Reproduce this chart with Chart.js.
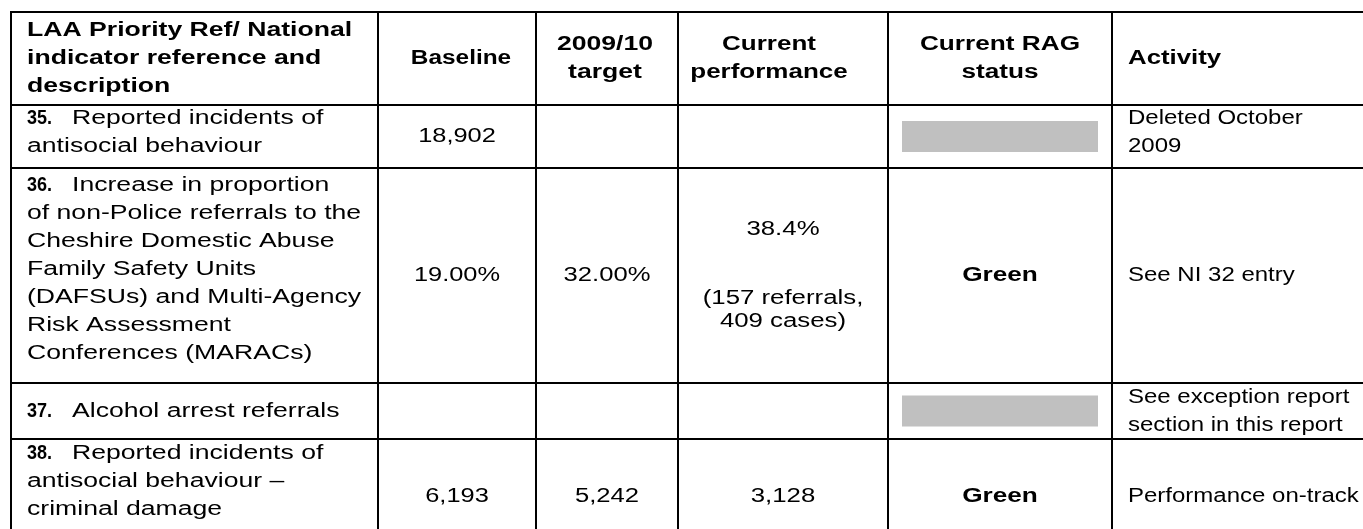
<!DOCTYPE html>
<html>
<head>
  <meta charset="UTF-8">
  <title>LAA Priority / National Indicators</title>
  <script src="https://cdn.jsdelivr.net/npm/chart.js@4.4.0/dist/chart.umd.min.js"></script>
  <style>
    body { margin: 0; padding: 0; background-color: #fff; }
    .wrap { position: relative; width: 1363px; height: 529px; }
  </style>
</head>
<body>
  <div class="wrap"><canvas id="tableChart"></canvas></div>

  <script>
    // table content
    const headers = [
      ["LAA Priority Ref/ National", "indicator reference and", "description"],
      ["Baseline"],
      ["2009/10", "target"],
      ["Current", "performance"],
      ["Current RAG", "status"],
      ["Activity"]
    ];
    const refNumbers = ["35.", "36.", "37.", "38."];
    const descriptions = [
      ["Reported incidents of", "antisocial behaviour"],
      ["Increase in proportion", "of non-Police referrals to the", "Cheshire Domestic Abuse",
       "Family Safety Units", "(DAFSUs) and Multi-Agency", "Risk Assessment", "Conferences (MARACs)"],
      ["Alcohol arrest referrals"],
      ["Reported incidents of", "antisocial behaviour \u2013", "criminal damage"]
    ];
    const baselineValues = ["18,902", "19.00%", "", "6,193"];
    const targetValues = ["", "32.00%", "", "5,242"];
    const performanceValues = [
      [""],
      ["38.4%", "", "", "(157 referrals,", "409 cases)"],
      [""],
      ["3,128"]
    ];
    const ragStatus = [null, "Green", null, "Green"];   // null = not rated (grey)
    const activities = [
      ["Deleted October", "2009"],
      ["See NI 32 entry"],
      ["See exception report", "section in this report"],
      ["Performance on-track"]
    ];

    // layout (in scale units, which map 1:1 onto the canvas)
    const colEdges = [11, 378, 536, 678, 888, 1112, 1420];
    const rowEdges = [12, 105, 168, 383, 439, 553];
    const pad = 16;
    const lineH = 28;
    const perfLineH = 23;
    const firstLineOffset = [13, 17, null, 14];      // description column, null = centred
    const activityOffset = [13, null, null, null];
    const headerNudge = [0, 4, -2, -14, 0, 0];
    const bodyStretch = [1.33, 1.27, 1.28, 1.29, 1.31, 1.2];
    const headStretch = [1.33, 1.22, 1.33, 1.3, 1.31, 1.29];
    const refStretch = 0.9, refGap = 45;
    const FONT = "'Liberation Sans', Arial, sans-serif";

    function txt(ctx, s, px, py, align, bold, sx) {
      if (!s) return;
      ctx.save();
      ctx.translate(px, py);
      ctx.scale(sx, 1);
      ctx.font = (bold ? "bold " : "") + "20px " + FONT;
      ctx.textAlign = align;
      ctx.textBaseline = "middle";
      ctx.fillStyle = "#000";
      ctx.fillText(s, 0, 0);
      ctx.restore();
    }

    const tablePlugin = {
      id: 'tableDraw',
      afterDraw(chart) {
        const ctx = chart.ctx;
        const X = v => chart.scales.x.getPixelForValue(v);
        const Y = v => chart.scales.y.getPixelForValue(v);
        const mid = (a, b) => (a + b) / 2;

        // header row
        const hTop = rowEdges[0], hBot = rowEdges[1];
        headers.forEach((lines, c) => {
          const y0 = mid(hTop, hBot) - (lines.length - 1) * lineH / 2;
          lines.forEach((s, i) => {
            if (c === 0 || c === 5) {
              txt(ctx, s, X(colEdges[c] + pad), Y(y0 + i * lineH), "left", true, headStretch[c]);
            } else {
              txt(ctx, s, X(mid(colEdges[c], colEdges[c + 1]) + headerNudge[c]), Y(y0 + i * lineH), "center", true, headStretch[c]);
            }
          });
        });

        // body rows
        for (let r = 0; r < refNumbers.length; r++) {
          const top = rowEdges[r + 1], bot = rowEdges[r + 2], cy = mid(top, bot);

          // description with bold reference number
          const desc = descriptions[r];
          const dy0 = firstLineOffset[r] === null ? cy - (desc.length - 1) * lineH / 2 : top + firstLineOffset[r];
          const left = colEdges[0] + pad;
          txt(ctx, refNumbers[r], X(left), Y(dy0), "left", true, refStretch);
          desc.forEach((s, i) => {
            txt(ctx, s, X(i === 0 ? left + refGap : left), Y(dy0 + i * lineH), "left", false, bodyStretch[0]);
          });

          txt(ctx, baselineValues[r], X(mid(colEdges[1], colEdges[2])), Y(cy), "center", false, bodyStretch[1]);
          txt(ctx, targetValues[r], X(mid(colEdges[2], colEdges[3])), Y(cy), "center", false, bodyStretch[2]);

          const perf = performanceValues[r];
          const py0 = cy - (perf.length - 1) * perfLineH / 2;
          perf.forEach((s, i) => txt(ctx, s, X(mid(colEdges[3], colEdges[4])), Y(py0 + i * perfLineH), "center", false, bodyStretch[3]));

          if (ragStatus[r] === null) {
            const bx0 = X(colEdges[4] + 14), bx1 = X(colEdges[5] - 14);
            const by0 = Y(cy - 15.5), by1 = Y(cy + 15.5);
            ctx.fillStyle = "#c0c0c0";
            ctx.fillRect(bx0, by0, bx1 - bx0, by1 - by0);
          } else {
            txt(ctx, ragStatus[r], X(mid(colEdges[4], colEdges[5])), Y(cy), "center", true, bodyStretch[4]);
          }

          const act = activities[r];
          const ay0 = activityOffset[r] === null ? cy - (act.length - 1) * lineH / 2 : top + activityOffset[r];
          act.forEach((s, i) => txt(ctx, s, X(colEdges[5] + pad), Y(ay0 + i * lineH), "left", false, bodyStretch[5]));
        }

        // grid lines
        ctx.save();
        ctx.strokeStyle = "#000";
        ctx.lineWidth = 2;
        ctx.beginPath();
        const yTop = Y(rowEdges[0]), yBot = Y(rowEdges[rowEdges.length - 1]);
        const xL = X(colEdges[0]), xR = X(colEdges[colEdges.length - 1]);
        colEdges.forEach(v => { ctx.moveTo(X(v), yTop - 1); ctx.lineTo(X(v), yBot + 1); });
        rowEdges.forEach(v => { ctx.moveTo(xL - 1, Y(v)); ctx.lineTo(xR + 1, Y(v)); });
        ctx.stroke();
        ctx.restore();
      }
    };

    new Chart(document.getElementById('tableChart'), {
      type: 'scatter',
      data: { datasets: [{ data: [] }] },
      options: {
        responsive: true,
        maintainAspectRatio: false,
        animation: false,
        events: [],
        layout: { padding: 0 },
        plugins: { legend: { display: false }, tooltip: { enabled: false } },
        scales: {
          x: { type: 'linear', min: 0, max: 1363, display: false },
          y: { type: 'linear', min: 0, max: 529, reverse: true, display: false }
        }
      },
      plugins: [tablePlugin]
    });
  </script>
</body>
</html>
